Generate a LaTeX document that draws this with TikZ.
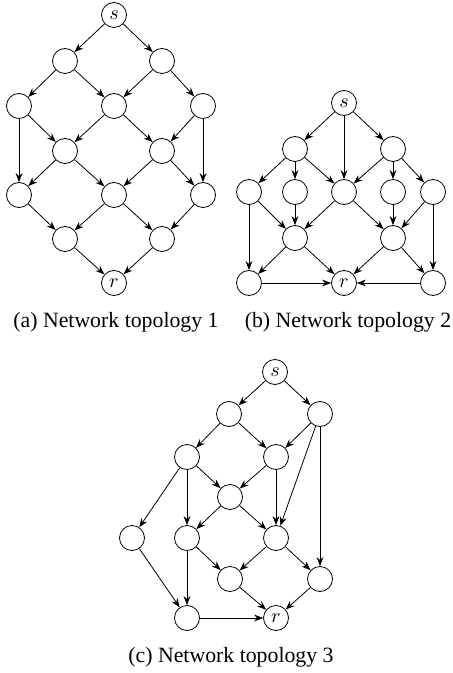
\documentclass[tikz,border=0pt]{standalone}
\usepackage{fontspec}
\setmainfont{Liberation Serif}
\usepackage{tikz}
\usetikzlibrary{positioning,arrows.meta}

\begin{document}
\begin{tikzpicture}[
                x=0.5pt, y=-0.5pt,
                % node styles
                netnode/.style={circle, draw=black, thin, fill=white, minimum size=12.5pt, inner sep=0pt},
                % edge style
                link/.style={-{Stealth[length=4.5pt,width=3.4pt]}, draw=black, thin},
                % captions
                caption/.style={font=\fontsize{10.9}{13}\selectfont}
            ]
                \useasboundingbox (0,0) rectangle (452,673);

                % --- TOPOLOGY 1 ---
                \node[netnode] (s1) at (114, 15) {$s$};
                \node[netnode] (p11) at (65, 61) {};
                \node[netnode] (p12) at (162, 61) {};
                \node[netnode] (p21) at (19, 106) {};
                \node[netnode] (p22) at (114, 106) {};
                \node[netnode] (p23) at (203, 106) {};
                \node[netnode] (p31) at (65, 151) {};
                \node[netnode] (p32) at (162, 151) {};
                \node[netnode] (p41) at (19, 195) {};
                \node[netnode] (p42) at (114, 195) {};
                \node[netnode] (p43) at (203, 195) {};
                \node[netnode] (p51) at (65, 239) {};
                \node[netnode] (p52) at (162, 239) {};
                \node[netnode] (r1) at (114, 283) {$r$};

                \draw[link] (s1) -- (p11); \draw[link] (s1) -- (p12);
                \draw[link] (p11) -- (p21); \draw[link] (p11) -- (p22);
                \draw[link] (p12) -- (p22); \draw[link] (p12) -- (p23);
                \draw[link] (p21) -- (p31); \draw[link] (p21) -- (p41);
                \draw[link] (p22) -- (p31); \draw[link] (p22) -- (p32);
                \draw[link] (p23) -- (p32); \draw[link] (p23) -- (p43);
                \draw[link] (p31) -- (p41); \draw[link] (p31) -- (p42);
                \draw[link] (p32) -- (p42); \draw[link] (p32) -- (p43);
                \draw[link] (p41) -- (p51);
                \draw[link] (p42) -- (p51); \draw[link] (p42) -- (p52);
                \draw[link] (p43) -- (p52);
                \draw[link] (p51) -- (r1); \draw[link] (p52) -- (r1);

                % --- TOPOLOGY 2 ---
                \node[netnode] (s2) at (344, 103) {$s$};
                \node[netnode] (q11) at (295, 149) {};
                \node[netnode] (q12) at (393, 149) {};
                \node[netnode] (q21) at (249, 192) {};
                \node[netnode] (q22) at (295, 192) {};
                \node[netnode] (q23) at (344, 192) {};
                \node[netnode] (q24) at (393, 192) {};
                \node[netnode] (q25) at (433, 192) {};
                \node[netnode] (q31) at (295, 238) {};
                \node[netnode] (q32) at (393, 238) {};
                \node[netnode] (q41) at (249, 283) {};
                \node[netnode] (r2) at (344, 283) {$r$};
                \node[netnode] (q43) at (433, 283) {};

                \draw[link] (s2) -- (q11); \draw[link] (s2) -- (q23); \draw[link] (s2) -- (q12);
                \draw[link] (q11) -- (q21); \draw[link] (q11) -- (q22); \draw[link] (q11) -- (q23);
                \draw[link] (q12) -- (q23); \draw[link] (q12) -- (q24); \draw[link] (q12) -- (q25);
                \draw[link] (q21) -- (q31); \draw[link] (q21) -- (q41);
                \draw[link] (q22) -- (q31);
                \draw[link] (q23) -- (q31); \draw[link] (q23) -- (q32);
                \draw[link] (q24) -- (q32);
                \draw[link] (q25) -- (q32); \draw[link] (q25) -- (q43);
                \draw[link] (q31) -- (q41); \draw[link] (q31) -- (r2);
                \draw[link] (q32) -- (r2); \draw[link] (q32) -- (q43);
                \draw[link] (q41) -- (r2); \draw[link] (q43) -- (r2);

                % --- TOPOLOGY 3 ---
                \node[netnode] (s3) at (275, 372) {$s$};
                \node[netnode] (w11) at (229, 414) {};
                \node[netnode] (w12) at (320, 414) {};
                \node[netnode] (w21) at (187, 457) {};
                \node[netnode] (w22) at (276, 457) {};
                \node[netnode] (w3) at (230, 497) {};
                \node[netnode] (w41) at (132, 538) {};
                \node[netnode] (w42) at (187, 538) {};
                \node[netnode] (w43) at (276, 538) {};
                \node[netnode] (w51) at (230, 579) {};
                \node[netnode] (w52) at (320, 579) {};
                \node[netnode] (w61) at (187, 618) {};
                \node[netnode] (r3) at (276, 618) {$r$};

                \draw[link] (s3) -- (w11); \draw[link] (s3) -- (w12);
                \draw[link] (w11) -- (w21); \draw[link] (w11) -- (w22);
                \draw[link] (w12) -- (w22); \draw[link] (w12) -- (w43); \draw[link] (w12) -- (w52);
                \draw[link] (w21) -- (w41); \draw[link] (w21) -- (w42); \draw[link] (w21) -- (w3);
                \draw[link] (w22) -- (w3); \draw[link] (w22) -- (w43);
                \draw[link] (w3) -- (w42); \draw[link] (w3) -- (w43);
                \draw[link] (w41) -- (w61);
                \draw[link] (w42) -- (w61); \draw[link] (w42) -- (w51);
                \draw[link] (w43) -- (w51); \draw[link] (w43) -- (w52);
                \draw[link] (w51) -- (r3); \draw[link] (w52) -- (r3);
                \draw[link] (w61) -- (r3);

                % --- CAPTIONS ---
                \node[caption] (capa) at (116, 322) {(a) Network topology 1};
                \node[caption] (capb) at (348, 322) {(b) Network topology 2};
                \node[caption] (capc) at (231, 657) {(c) Network topology 3};

            \end{tikzpicture}
\end{document}
